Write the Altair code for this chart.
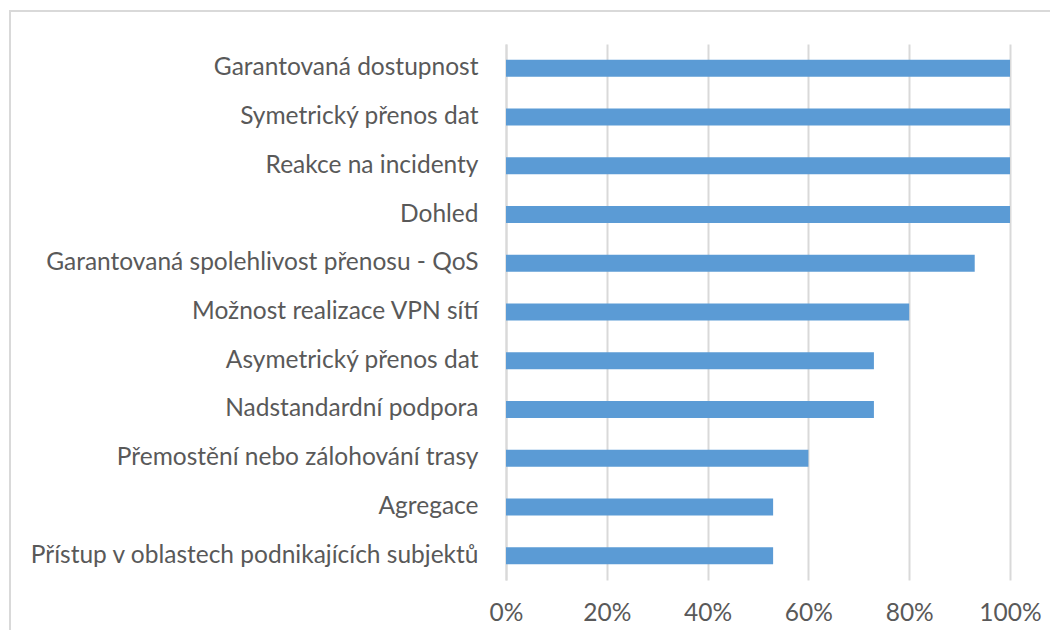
import altair as alt
import pandas as pd

categories = [
    "Garantovaná dostupnost",
    "Symetrický přenos dat",
    "Reakce na incidenty",
    "Dohled",
    "Garantovaná spolehlivost přenosu - QoS",
    "Možnost realizace VPN sítí",
    "Asymetrický přenos dat",
    "Nadstandardní podpora",
    "Přemostění nebo zálohování trasy",
    "Agregace",
    "Přístup v oblastech podnikajících subjektů",
]
values = [1.0, 1.0, 1.0, 1.0, 0.93, 0.80, 0.73, 0.73, 0.60, 0.53, 0.53]
x_ticks = [0, 0.2, 0.4, 0.6, 0.8, 1.0]

df = pd.DataFrame({"cat": categories, "val": values})
FONT = "Lato"
GRAY = "#595959"
FS = 24.5

bars = alt.Chart(df).mark_bar(size=17, color="#5b9bd5").encode(
    x=alt.X("val:Q", scale=alt.Scale(domain=[0, 1], nice=False),
            axis=alt.Axis(values=x_ticks, format=".0%", title=None, domain=False,
                          ticks=False, grid=True, gridColor="#d9d9d9", gridWidth=2,
                          labelFontSize=FS, labelColor=GRAY, labelFont=FONT,
                          labelPadding=21, labelFlush=False, labelOverlap=False)),
    y=alt.Y("cat:N", sort=categories,
            axis=alt.Axis(title=None, ticks=False, domain=True, domainColor="#d9d9d9",
                          domainWidth=2, labelFontSize=FS, labelColor=GRAY,
                          labelFont=FONT, labelPadding=28, labelLimit=600)),
)

frame = alt.Chart(pd.DataFrame({"a": [0]})).mark_rect(
    fill=None, stroke="#d9d9d9", strokeWidth=2
).encode(
    x=alt.value(-496), x2=alt.value(600), y=alt.value(-33), y2=alt.value(650)
)

chart = alt.layer(frame, bars).properties(
    width=504, height=536,
    autosize=alt.AutoSizeParams(type="none"),
    padding={"left": 498, "top": 36, "right": 40, "bottom": 50},
    background="white",
).configure_view(stroke=None)

chart.save("out.html", embed_options={"renderer": "svg", "actions": False})
